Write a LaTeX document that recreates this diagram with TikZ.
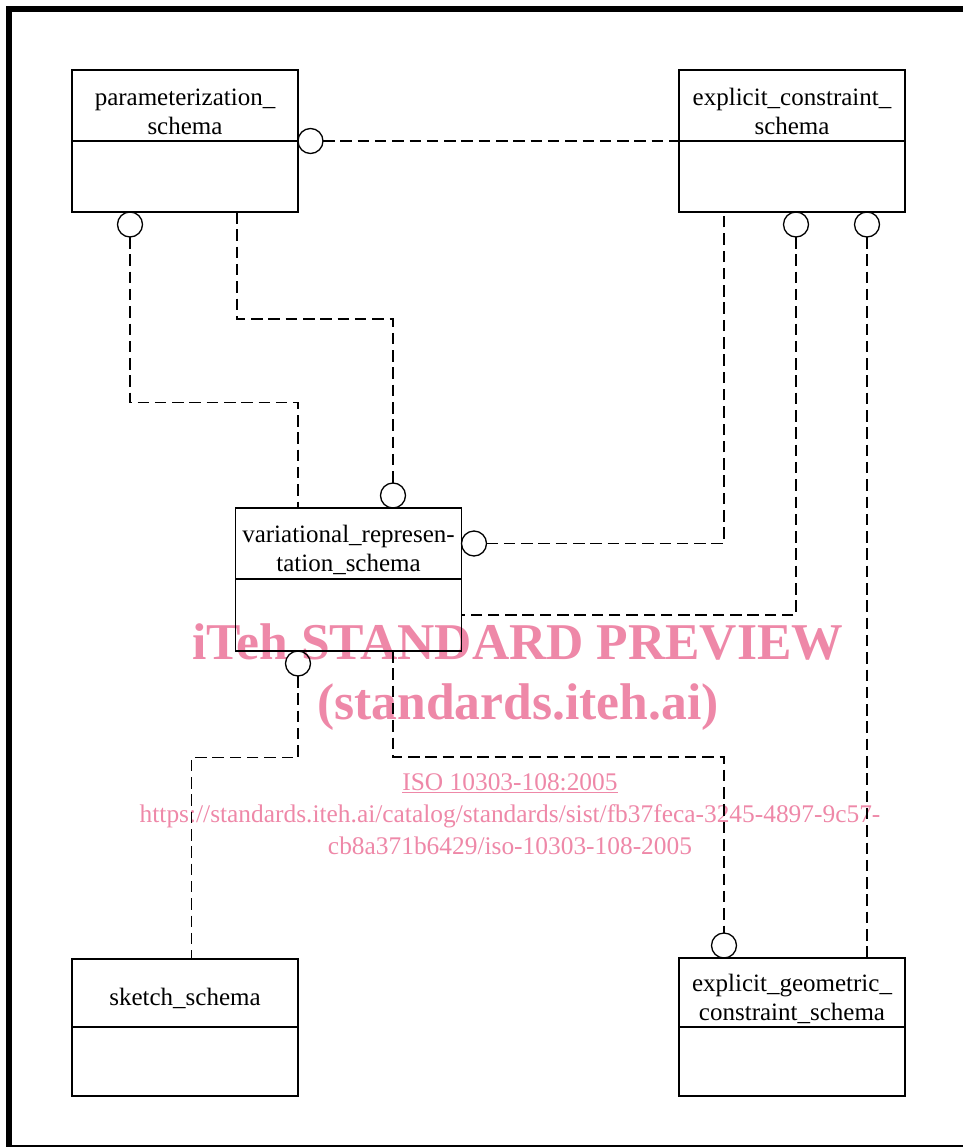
\documentclass[tikz,border=0pt]{standalone}
\usepackage{fontspec}
\setmainfont{Liberation Serif}
\usepackage{tikz}
\usetikzlibrary{positioning}
\definecolor{wmpink}{RGB}{238,136,168}

\begin{document}
\begin{tikzpicture}[
  x=1pt, y=-1pt,
  head/.style={draw, line width=1.3pt, minimum width=226pt, minimum height=71pt, inner sep=0pt, outer sep=0pt},
  body/.style={head},
  title/.style={align=center, inner sep=0pt, font=\fontsize{25}{29}\selectfont},
  lolly/.style={draw, circle, line width=1.3pt, minimum size=25pt, inner sep=0pt, outer sep=0pt},
  link/.style={line width=1.4pt, dash pattern=on 11.5pt off 5.8pt},
  wmark/.style={text=wmpink, align=center, inner sep=0pt},
]
\useasboundingbox (0,0) rectangle (963,1148);

% Watermark (under the diagram)
\node[wmark, font=\fontsize{51.6}{60}\selectfont\bfseries] (wmhead) at (518,677) {iTeh STANDARD PREVIEW\\(standards.iteh.ai)};
\node[wmark, font=\fontsize{25.4}{32}\selectfont] (wmurl) at (510,814) {\underline{ISO 10303-108:2005}\\https://standards.iteh.ai/catalog/standards/sist/fb37feca-3245-4897-9c57-\\cb8a371b6429/iso-10303-108-2005};

% Frame
\draw[line width=6pt] (9,1146) -- (9,9) -- (963,9);
\draw[line width=1.5pt] (6,1146) -- (963,1146);

% Schemas: header over an empty body
\node[head] (param) at (185,105.5) {};
\node[body, below=0pt of param] (parambody) {};
\node[title] (paramname) at ([yshift=-6pt]param.center) {parameterization\_\\schema};

\node[head] (ecs) at (792,105.5) {};
\node[body, below=0pt of ecs] (ecsbody) {};
\node[title] (ecsname) at ([yshift=-6pt]ecs.center) {explicit\_constraint\_\\schema};

\node[head] (var) at (348.5,543.5) {};
\node[body, below=0pt of var, minimum height=72pt] (varbody) {};
\node[title] (varname) at ([yshift=-6pt]var.center) {variational\_represen-\\tation\_schema};

\node[head, minimum height=68pt] (sketch) at (185,993) {};
\node[body, below=0pt of sketch, minimum height=69pt] (sketchbody) {};
\node[title] (sketchname) at ([yshift=-5pt]sketch.center) {sketch\_schema};

\node[head, minimum height=69pt] (egcs) at (792,992.5) {};
\node[body, below=0pt of egcs, minimum height=69pt] (egcsbody) {};
\node[title] (egcsname) at ([yshift=-6pt]egcs.center) {explicit\_geometric\_\\constraint\_schema};

% Circles at the used ends
\node[lolly, right=0pt of param.south east] (c1) {};
\node[lolly, anchor=north] (c2) at ([xshift=-55pt]parambody.south) {};
\node[lolly, anchor=south] (c3) at ([xshift=44.5pt]var.north) {};
\node[lolly, anchor=west] (c4) at (var.east) {};
\node[lolly, anchor=north] (c5) at ([xshift=4pt]ecsbody.south) {};
\node[lolly, anchor=north] (c6) at ([xshift=75pt]ecsbody.south) {};
\node[lolly, anchor=north] (c7) at ([xshift=-50.5pt]varbody.south) {};
\node[lolly, anchor=south] (c8) at ([xshift=-68pt]egcs.north) {};

% Dashed links
\draw[link] (c1.east) -- (ecs.south west);
\draw[link] (c2.south) -- ++(0,165.5) -| ([xshift=-50.5pt]var.north);
\draw[link] ([xshift=52pt]parambody.south) -- ++(0,107) -| (c3.north);
\draw[link] (c4.east) -| ([xshift=-68pt]ecsbody.south);
\draw[link] (c5.south) |- (varbody.east);
\draw[link] (c6.south) -- (c6.south |- egcs.north);
\draw[link] (c7.south) -- ++(0,81.5) -| ([xshift=6.5pt]sketch.north);
\draw[link] ([xshift=44.5pt]varbody.south) -- ++(0,106) -| (c8.north);

\end{tikzpicture}
\end{document}
